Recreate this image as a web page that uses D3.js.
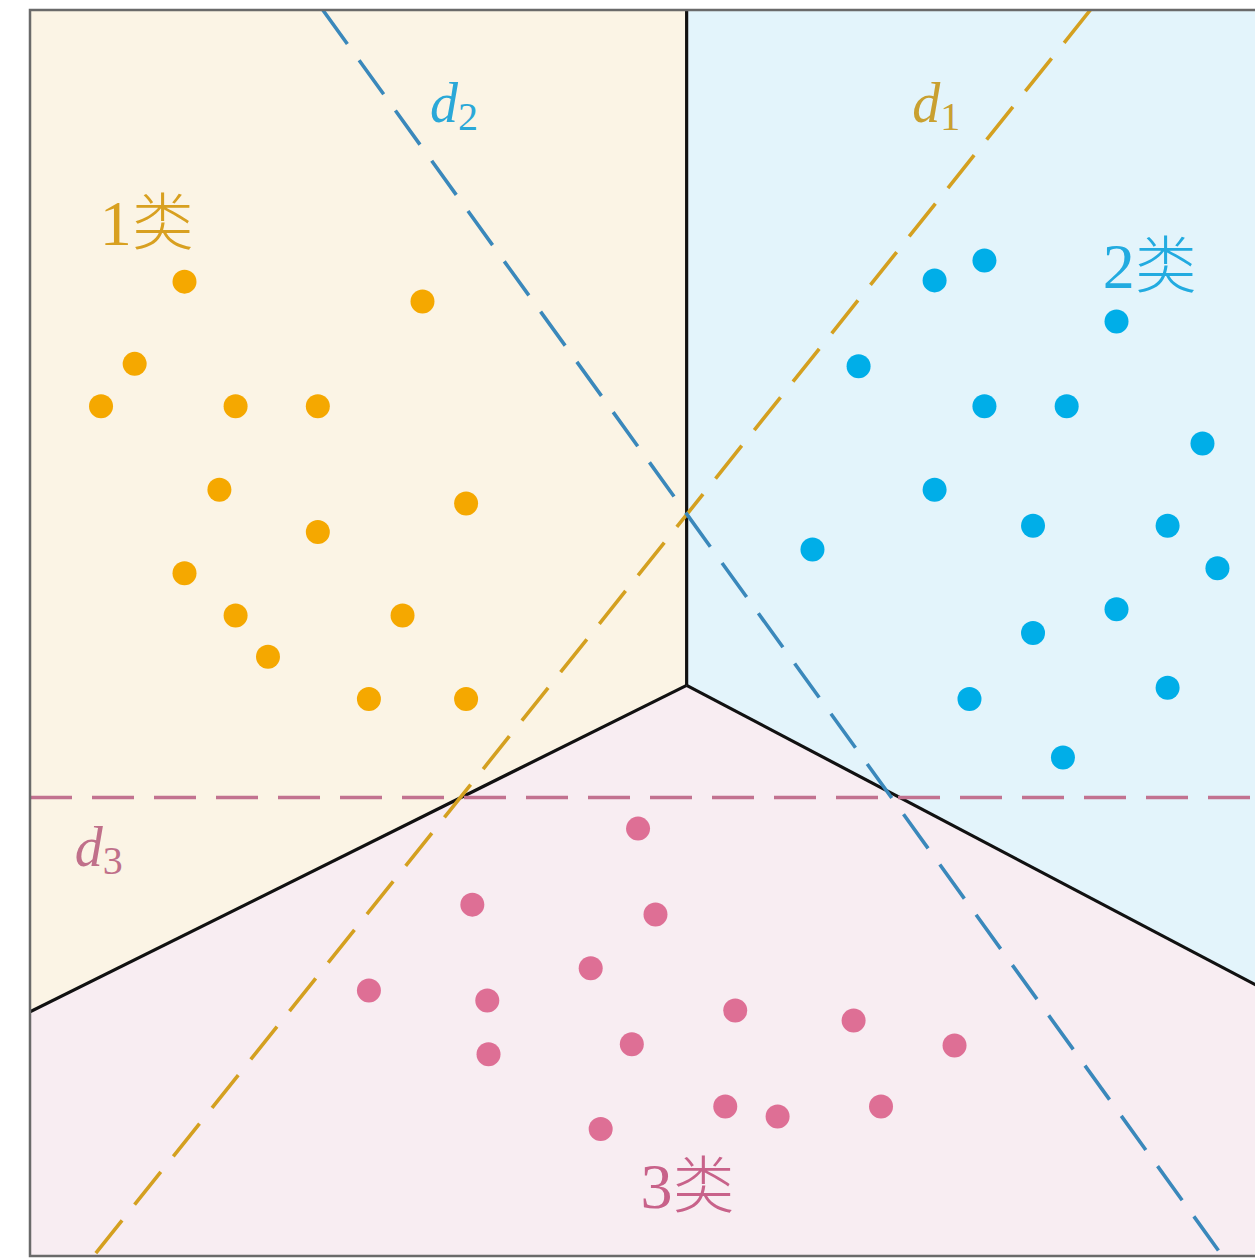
<!DOCTYPE html>
<html>
  <head>
    <title>Classes</title>
    <script src="https://cdn.jsdelivr.net/npm/d3@7"></script>
    <style>
      body { margin: 0; background: #fff; }
    </style>
  </head>
  <body>
    <svg width="1255" height="1258" id="mainsvg"></svg>
    <script>
    // point data, in 0..100 units of the square frame
    const class1 = [[12.4,78.2],[31.5,76.6],[8.4,71.6],[5.7,68.2],[16.5,68.2],[23.1,68.2],[15.2,61.5],[35.0,60.4],
      [23.1,58.1],[12.4,54.8],[16.5,51.4],[29.9,51.4],[19.1,48.1],[27.2,44.7],[35.0,44.7]];
    const class2 = [[76.6,79.9],[72.6,78.3],[87.2,75.0],[66.5,71.4],[76.6,68.2],[83.2,68.2],[94.1,65.2],[72.6,61.5],
      [80.5,58.6],[91.3,58.6],[62.8,56.7],[95.3,55.2],[87.2,51.9],[80.5,50.0],[91.3,45.6],[75.4,44.7],[82.9,40.0]];
    const class3 = [[48.8,34.3],[35.5,28.2],[50.2,27.4],[45.0,23.1],[27.2,21.3],[36.7,20.5],[56.6,19.7],[66.1,18.9],
      [74.2,16.9],[48.3,17.0],[36.8,16.2],[55.8,12.0],[60.0,11.2],[68.3,12.0],[45.8,10.2]];

    // decision regions
    const region1 = [[0,100],[52.7,100],[52.7,45.8],[0,19.6]];
    const region2 = [[52.7,100],[100,100],[100,20.9],[52.7,45.8]];
    const region3 = [[0,19.6],[52.7,45.8],[100,20.9],[100,0],[0,0]];
    const boundary = [[[52.7,100],[52.7,45.8]], [[52.7,45.8],[0,19.6]], [[52.7,45.8],[100,20.9]]];

    // dashed discriminant lines
    const dLines = [
      {name: '1', pts: [[85.1,100],[5.1,0]], label: [70.8,91.0]},
      {name: '2', pts: [[23.5,100],[95.7,0]], label: [32.1,91.0]},
      {name: '3', pts: [[0,36.8],[100,36.8]], label: [3.6,31.3]}
    ];
    const classLabels = [
      {text: '1', pos: [5.6,81.1]},
      {text: '2', pos: [86.1,77.7]},
      {text: '3', pos: [49.0,3.85]}
    ];

    const fills = ['#fbf4e5', '#e3f4fb', '#f8edf2'];
    const dotColors = ['#f5a800', '#00aee8', '#de6f95'];
    const textColors = ['#d8a020', '#22abe0', '#c8628a'];
    const lineColors = ['#d4a020', '#3a88bb', '#c27290'];
    const dLabelColors = ['#c9a030', '#2aa8d8', '#c0708a'];

    let svg = d3.select('#mainsvg');
    const x = d3.scaleLinear().domain([0, 100]).range([30, 1276]);
    const y = d3.scaleLinear().domain([0, 100]).range([1256, 10]);
    const line = d3.line().x(d => x(d[0])).y(d => y(d[1]));

    svg.append('clipPath').attr('id', 'frame')
      .append('rect').attr('x', x(0)).attr('y', y(100))
      .attr('width', x(100) - x(0)).attr('height', y(0) - y(100));
    const g = svg.append('g').attr('clip-path', 'url(#frame)');

    g.selectAll('path.region').data([region1, region2, region3]).join('path')
      .attr('class', 'region')
      .attr('d', d => line(d) + 'Z')
      .attr('fill', (d, i) => fills[i]);

    g.selectAll('path.bound').data(boundary).join('path')
      .attr('class', 'bound')
      .attr('d', line)
      .attr('fill', 'none')
      .attr('stroke', '#111')
      .attr('stroke-width', 3.2);

    g.selectAll('path.dline').data(dLines).join('path')
      .attr('class', 'dline')
      .attr('d', d => line(d.pts))
      .attr('fill', 'none')
      .attr('stroke', (d, i) => lineColors[i])
      .attr('stroke-width', 3.6)
      .attr('stroke-dasharray', '42,20');

    [class1, class2, class3].forEach((pts, i) => {
      g.selectAll('circle.c' + i).data(pts).join('circle')
        .attr('class', 'c' + i)
        .attr('cx', d => x(d[0]))
        .attr('cy', d => y(d[1]))
        .attr('r', 12)
        .attr('fill', dotColors[i]);
    });

    // class labels
    const cl = g.selectAll('text.cls').data(classLabels).join('text')
      .attr('class', 'cls')
      .attr('x', d => x(d.pos[0]))
      .attr('y', d => y(d.pos[1]))
      .attr('fill', (d, i) => textColors[i])
      .attr('font-size', 64);
    cl.append('tspan').attr('font-family', '"Liberation Serif", serif').text(d => d.text);
    cl.append('tspan').attr('font-family', '"Noto Sans CJK SC", sans-serif').attr('font-weight', 300)
      .attr('font-size', 62).text('类');

    // d labels
    const dl = g.selectAll('text.dl').data(dLines).join('text')
      .attr('class', 'dl')
      .attr('x', d => x(d.label[0]))
      .attr('y', d => y(d.label[1]))
      .attr('fill', (d, i) => dLabelColors[i])
      .attr('font-family', '"Liberation Serif", serif')
      .attr('font-size', 56);
    dl.append('tspan').attr('font-style', 'italic').text('d');
    dl.append('tspan').attr('font-size', 40).attr('dy', 8).text(d => d.name);

    // frame border
    svg.append('rect')
      .attr('x', x(0)).attr('y', y(100))
      .attr('width', x(100) - x(0)).attr('height', y(0) - y(100))
      .attr('fill', 'none')
      .attr('stroke', '#6a6a6a')
      .attr('stroke-width', 2.5);
    </script>
  </body>
</html>
